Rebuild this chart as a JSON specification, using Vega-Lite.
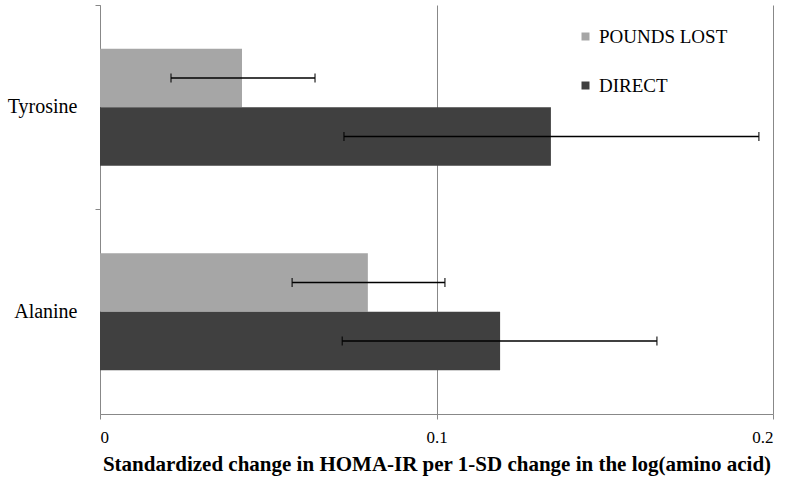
{
  "$schema": "https://vega.github.io/schema/vega-lite/v6.json",
  "autosize": "none",
  "width": 673,
  "height": 409,
  "padding": {"left": 100, "top": 5, "right": 16, "bottom": 66},
  "background": "white",
  "config": {"view": {"stroke": null}},
  "data": {
    "values": [
      {"amino": "Tyrosine", "group": "POUNDS LOST", "value": 0.0422, "lo": 0.0211, "hi": 0.0639},
      {"amino": "Tyrosine", "group": "DIRECT", "value": 0.134, "lo": 0.0725, "hi": 0.1958},
      {"amino": "Alanine", "group": "POUNDS LOST", "value": 0.0796, "lo": 0.0571, "hi": 0.1025},
      {"amino": "Alanine", "group": "DIRECT", "value": 0.1189, "lo": 0.072, "hi": 0.1655}
    ]
  },
  "encoding": {
    "y": {
      "field": "amino", "type": "nominal", "sort": ["Tyrosine", "Alanine"],
      "scale": {"paddingInner": 0, "paddingOuter": 0},
      "axis": {
        "title": null, "bandPosition": 0, "labelOffset": 0,
        "domainColor": "#888888", "tickColor": "#888888", "tickSize": 5,
        "labelFont": "Liberation Serif", "labelFontSize": 20, "labelColor": "#000000",
        "labelPadding": 18, "labelAngle": 0
      }
    },
    "yOffset": {
      "field": "group", "type": "nominal", "sort": ["POUNDS LOST", "DIRECT"],
      "scale": {"paddingInner": 0, "paddingOuter": 0.748}
    }
  },
  "layer": [
    {
      "mark": {"type": "bar"},
      "encoding": {
        "x": {
          "field": "value", "type": "quantitative",
          "scale": {"domain": [0, 0.2], "nice": false},
          "axis": {
            "values": [0, 0.1, 0.2], "format": "~g",
            "title": "Standardized change in HOMA-IR per 1-SD change in the log(amino acid)",
            "titleFont": "Liberation Serif", "titleFontSize": 21, "titleFontWeight": "bold", "titleColor": "#000000", "titlePadding": 8,
            "labelFont": "Liberation Serif", "labelFontSize": 17, "labelColor": "#000000", "labelPadding": 10,
            "domainColor": "#888888", "tickColor": "#888888", "tickSize": 5,
            "grid": true, "gridColor": "#888888", "gridWidth": 1
          }
        },
        "color": {
          "field": "group", "type": "nominal",
          "scale": {"domain": ["POUNDS LOST", "DIRECT"], "range": ["#a6a6a6", "#404040"]},
          "legend": {
            "title": null, "orient": "none", "legendX": 476, "legendY": 22,
            "symbolType": "square", "symbolSize": 64, "symbolStrokeWidth": 0,
            "labelFont": "Liberation Serif", "labelFontSize": 19, "labelColor": "#000000",
            "rowPadding": 29, "labelOffset": 4, "padding": 0
          }
        }
      }
    },
    {
      "mark": {"type": "rule", "color": "#000000", "strokeWidth": 1.5},
      "encoding": {
        "x": {"field": "lo", "type": "quantitative"},
        "x2": {"field": "hi"}
      }
    },
    {
      "mark": {"type": "tick", "color": "#000000", "thickness": 1.5, "size": 9},
      "encoding": {"x": {"field": "lo", "type": "quantitative"}}
    },
    {
      "mark": {"type": "tick", "color": "#000000", "thickness": 1.5, "size": 9},
      "encoding": {"x": {"field": "hi", "type": "quantitative"}}
    }
  ]
}
